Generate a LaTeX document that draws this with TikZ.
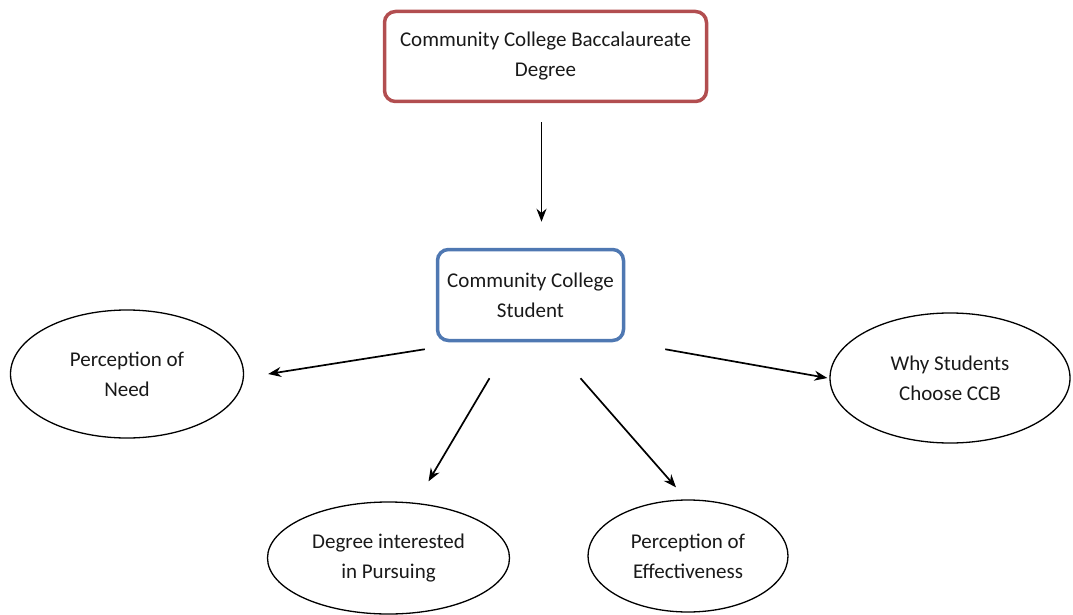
\documentclass[tikz,border=0pt]{standalone}
\usepackage{fontspec}
\setmainfont{Carlito}
\usetikzlibrary{shapes.geometric,arrows.meta}
\definecolor{boxred}{RGB}{178,78,80}
\definecolor{boxblue}{RGB}{79,120,178}
\definecolor{txt}{RGB}{25,25,25}
\begin{document}
\begin{tikzpicture}[x=1pt,y=1pt,
  lbl/.style={align=center,text=txt,font=\fontsize{21}{30}\selectfont},
  redbox/.style={lbl,draw=boxred,line width=3.5pt,rounded corners=11pt,minimum width=322pt,minimum height=90pt},
  bluebox/.style={lbl,draw=boxblue,line width=3.5pt,rounded corners=11pt,minimum width=186pt,minimum height=91pt},
  oval/.style={lbl,draw=black,line width=1.3pt,ellipse,inner sep=0pt},
  arr/.style={-{Stealth[length=13pt,width=10pt]},line width=1.7pt,black}]
\useasboundingbox (0,0) rectangle (1073,-615);
\node[redbox] (top) at (545.5,-56.5) {Community College Baccalaureate\\Degree};
\node[bluebox] (mid) at (530.5,-295) {Community College\\Student};
\node[oval,minimum width=233pt,minimum height=128pt] (pn) at (127,-374) {Perception of\\Need};
\node[oval,minimum width=240pt,minimum height=130pt] (wc) at (950,-378) {Why Students\\Choose CCB};
\node[oval,minimum width=242pt,minimum height=112pt] (dp) at (388.5,-558) {Degree interested\\in Pursuing};
\node[oval,minimum width=200pt,minimum height=112pt] (pe) at (688,-556) {Perception of\\Effectiveness};
\draw[arr] ([xshift=-4pt,yshift=-19pt]top.south) -- ([xshift=11pt,yshift=26pt]mid.north);
\draw[arr] ([xshift=-11pt,yshift=-7pt]mid.south west) -- ([xshift=24pt]pn.east);
\draw[arr] ([xshift=40pt,yshift=-7pt]mid.south east) -- ([xshift=-2pt]wc.west);
\draw[arr] ([xshift=-41pt,yshift=-36pt]mid.south) -- ([xshift=40pt,yshift=20pt]dp.north);
\draw[arr] ([xshift=50pt,yshift=-36pt]mid.south) -- ([xshift=-12pt,yshift=12pt]pe.north);
\end{tikzpicture}
\end{document}
